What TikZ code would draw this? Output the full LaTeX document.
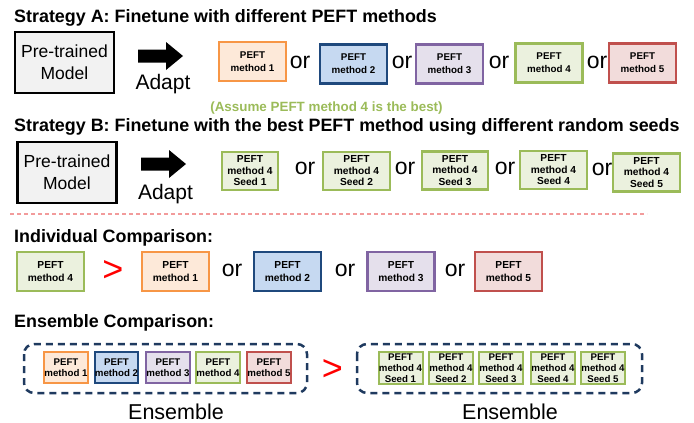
\documentclass[tikz,border=0pt]{standalone}
\usepackage{fontspec}
\setmainfont{Liberation Sans}

% Office-style theme colours
\definecolor{orgLine}{HTML}{F79646}\definecolor{orgFill}{HTML}{FDE9D9}
\definecolor{bluLine}{HTML}{1F497D}\definecolor{bluFill}{HTML}{C6D9F1}
\definecolor{purLine}{HTML}{8064A2}\definecolor{purFill}{HTML}{E5E0EC}
\definecolor{grnLine}{HTML}{9BBB59}\definecolor{grnFill}{HTML}{EBF1DE}
\definecolor{redLine}{HTML}{C0504D}\definecolor{redFill}{HTML}{F2DCDB}
\definecolor{navy}{HTML}{1F3A5F}
\definecolor{sepRed}{HTML}{F29B9B}
\definecolor{noteGreen}{HTML}{9BBB59}

\newcommand{\fs}[2]{\fontsize{#1}{#2}\selectfont}
% block arrow drawn from its tail point: \adaptarrow{x}{y}
\newcommand{\adaptarrow}[2]{%
  \fill[black] (#1,#2-6.5) -- ++(28,0) -- ++(0,-7.5) -- ++(17,14) -- ++(-17,14)
    -- ++(0,-7.5) -- ++(-28,0) -- cycle;}

\tikzset{
  title/.style={anchor=base west, inner sep=0pt, font=\fs{17.9}{20}\bfseries},
  model/.style={draw=black, line width=2.2pt, fill=black!5, minimum width=99pt,
    minimum height=61pt, align=center, inner sep=0pt, font=\fs{17.5}{22}},
  adapttxt/.style={anchor=base, inner sep=0pt, font=\fs{21}{24}},
  ortxt/.style={inner sep=0pt, font=\fs{23}{26}},
  gttxt/.style={inner sep=0pt, text=red, font=\fs{36}{36}},
  peft/.style={line width=2.3pt, align=center, inner sep=0pt, font=\bfseries},
  pA/.style={peft, minimum width=67pt, minimum height=39pt, font=\fs{9.8}{13}\bfseries},
  pB/.style={peft, minimum height=38pt, font=\fs{10.2}{11.5}\bfseries},
  pC/.style={peft, minimum width=67pt, minimum height=39pt, font=\fs{10.2}{13}\bfseries},
  pE/.style={peft, line width=2pt, minimum width=42pt, minimum height=31pt, font=\fs{9.7}{11}\bfseries},
  pS/.style={peft, line width=2pt, minimum width=44pt, minimum height=32pt, font=\fs{9.7}{11}\bfseries},
  m1/.style={draw=orgLine, fill=orgFill},
  m2/.style={draw=bluLine, fill=bluFill},
  m3/.style={draw=purLine, fill=purFill},
  m4/.style={draw=grnLine, fill=grnFill},
  m5/.style={draw=redLine, fill=redFill},
  ensbox/.style={draw=navy, line width=2.5pt, dash pattern=on 7pt off 5pt, rounded corners=10pt},
  enstxt/.style={anchor=base, inner sep=0pt, font=\fs{21.5}{24}},
}

\begin{document}
\begin{tikzpicture}[x=1pt, y=-1pt]
\useasboundingbox (0,0) rectangle (694,423);

% ---------- Strategy A ----------
\node[title] (tA) at (14,22) {Strategy A: Finetune with different PEFT methods};
\node[model] (modA) at (64.5,62.5) {Pre-trained\\Model};
\adaptarrow{138}{56}
\node[adapttxt] (adA) at (163,89) {Adapt};
\node[pA,m1] (a1) at (252.5,61.5) {PEFT\\method 1};
\node[ortxt] (oa1) at (300,62) {or};
\node[pA,m2] (a2) at (353.5,64) {PEFT\\method 2};
\node[ortxt] (oa2) at (402,62) {or};
\node[pA,m3] (a3) at (449.5,64) {PEFT\\method 3};
\node[ortxt] (oa3) at (499,62) {or};
\node[pA,m4] (a4) at (549,63) {PEFT\\method 4};
\node[ortxt] (oa4) at (597,62) {or};
\node[pA,m5] (a5) at (642.5,63) {PEFT\\method 5};

\node[inner sep=0pt, text=noteGreen, font=\fs{13.4}{15}\bfseries] (note) at (326.5,108)
  {(Assume PEFT method 4 is the best)};

% ---------- Strategy B ----------
\node[title] (tB) at (14,131) {Strategy B: Finetune with the best PEFT method using different random seeds};
\node[model] (modB) at (67,172.5) {Pre-trained\\Model};
\adaptarrow{141}{164}
\node[adapttxt] (adB) at (165.5,199) {Adapt};
\node[pB,m4,minimum width=56pt] (s1) at (250,171) {PEFT\\method 4\\Seed 1};
\node[ortxt] (ob1) at (305,168) {or};
\node[pB,m4,minimum width=67pt] (s2) at (356.5,171) {PEFT\\method 4\\Seed 2};
\node[ortxt] (ob2) at (405,168) {or};
\node[pB,m4,minimum width=66pt] (s3) at (455,170.5) {PEFT\\method 4\\Seed 3};
\node[ortxt] (ob3) at (505,168) {or};
\node[pB,m4,minimum width=67pt] (s4) at (553.5,170) {PEFT\\method 4\\Seed 4};
\node[ortxt] (ob4) at (602,169) {or};
\node[pB,m4,minimum width=67pt] (s5) at (646.5,172.5) {PEFT\\method 4\\Seed 5};

% separator
\coordinate (sepL) at (10,214);
\coordinate (sepR) at (647,214);
\draw[sepRed, line width=1.4pt, dash pattern=on 4pt off 3pt] (sepL) -- (sepR);

% ---------- Individual comparison ----------
\node[title] (tC) at (14,242) {Individual Comparison:};
\node[pC,m4] (c4) at (50.5,271.5) {PEFT\\method 4};
\node[gttxt] (gtC) at (113,271) {>};
\node[pC,m1] (c1) at (175.5,271.5) {PEFT\\method 1};
\node[ortxt] (oc1) at (232,270) {or};
\node[pC,m2] (c2) at (287.5,271.5) {PEFT\\method 2};
\node[ortxt] (oc2) at (345,270) {or};
\node[pC,m3] (c3) at (401,271.5) {PEFT\\method 3};
\node[ortxt] (oc3) at (455,270) {or};
\node[pC,m5] (c5) at (508.5,271.5) {PEFT\\method 5};

% ---------- Ensemble comparison ----------
\node[title] (tD) at (14,327) {Ensemble Comparison:};
\draw[ensbox] (24,344) rectangle (307,393);
\node[pE,m1] (e1) at (66,367.5) {PEFT\\method 1};
\node[pE,m2] (e2) at (116.5,367.5) {PEFT\\method 2};
\node[pE,m3] (e3) at (168,367.5) {PEFT\\method 3};
\node[pE,m4] (e4) at (218,367.5) {PEFT\\method 4};
\node[pE,m5] (e5) at (269,367.5) {PEFT\\method 5};
\node[gttxt] (gtE) at (332.5,370) {>};
\draw[ensbox] (357,344) rectangle (642,393);
\node[pS,m4] (f1) at (400.5,368) {PEFT\\method 4\\Seed 1};
\node[pS,m4] (f2) at (451,368) {PEFT\\method 4\\Seed 2};
\node[pS,m4] (f3) at (501,368) {PEFT\\method 4\\Seed 3};
\node[pS,m4] (f4) at (553,368) {PEFT\\method 4\\Seed 4};
\node[pS,m4] (f5) at (603,368) {PEFT\\method 4\\Seed 5};
\node[enstxt] (ensL) at (176,419) {Ensemble};
\node[enstxt] (ensR) at (510,419) {Ensemble};
\end{tikzpicture}
\end{document}
